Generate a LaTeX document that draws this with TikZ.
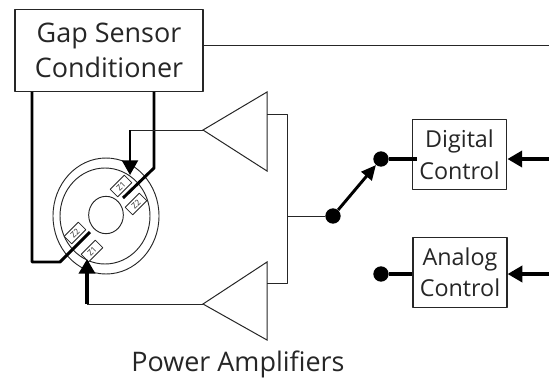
\documentclass[tikz,border=0pt]{standalone}
\usepackage{fontspec}
\setmainfont{Open Sans}
\usetikzlibrary{arrows.meta,shapes.geometric}
\definecolor{inkgrey}{gray}{0.15}
\tikzset{
  blockbox/.style={draw=inkgrey,line width=0.9pt,inner sep=0pt,align=center,text=inkgrey,fill=white},
  thinwire/.style={draw=inkgrey,line width=0.75pt},
  thickwire/.style={draw=black,line width=2.6pt},
  bigarrow/.style={thickwire,-{Triangle[length=11pt,width=12pt]}},
  terminal/.style={circle,fill=black,inner sep=0pt,minimum size=11.5pt},
  amplifier/.style={thinwire,line join=miter},
  gapcoil/.style={draw=inkgrey,line width=0.6pt,fill=white,rotate=45,minimum width=15pt,minimum height=8pt,inner sep=0pt,font=\fontsize{6}{6}\selectfont,text=inkgrey},
  airgap/.style={draw=inkgrey,line width=0.7pt}
}
\begin{document}
\begin{tikzpicture}[x=0.75pt,y=-0.75pt,>=stealth,line join=round,font=\fontsize{20.2}{26}\selectfont]
\useasboundingbox (0,0) rectangle (549,379);
% top line
\node[blockbox,minimum width=141pt,minimum height=61pt] (gapbox) at (109,50.5) {Gap Sensor\\Conditioner};
\coordinate (topend) at (549,45);
\draw[thinwire] (gapbox.east |- topend)--(topend);
% bearing
\draw[airgap] (106,216) ellipse (53 and 58);
\draw[airgap] (105,216) ellipse (45 and 48);
\node[draw=inkgrey,line width=0.7pt,ellipse,inner sep=0pt,minimum width=26pt,minimum height=28pt] (rotor) at (106,215) {};
\node[gapcoil] (coilA) at (121,186) {Z1};
\node[gapcoil] (coilB) at (136,204) {Z2};
\node[gapcoil] (coilC) at (75,233) {Z2};
\node[gapcoil] (coilD) at (92,251) {Z1};
% sensor wires
\coordinate (sensA) at (123,198);
\coordinate (sensAtop) at (154,168);
\coordinate (sensB) at (90,232);
\coordinate (sensBbend) at (60,262);
\coordinate (sensBleft) at (32,262);
\draw[thickwire,line width=2.2pt] (sensA)--(sensAtop)--(sensAtop |- gapbox.south);
\draw[thickwire,line width=2.2pt] (sensB)--(sensBbend)--(sensBleft)--(sensBleft |- gapbox.south);
% amplifiers
\coordinate (ampAtip) at (203,130);
\coordinate (ampBtip) at (203,304);
\draw[amplifier] (ampAtip)--(267,92)--(267,171)--cycle;
\draw[amplifier] (ampBtip)--(267,262)--(267,340)--cycle;
\coordinate (busA) at (287,114);
\coordinate (busB) at (287,283);
\draw[thinwire] (267,114)--(busA)--(busB)--(267,283);
% drive lines
\coordinate (driveA) at (130,130);
\coordinate (driveAend) at (130,175);
\coordinate (driveB) at (87,304);
\coordinate (driveBend) at (87,259);
\draw[thinwire] (ampAtip)--(driveA);
\draw[thinwire] (ampBtip)--(driveB);
\draw[bigarrow,line width=1.6pt] (driveA)--(driveAend);
\draw[bigarrow,line width=3.2pt] (driveB)--(driveBend);
% switch
\node[terminal] (pole) at (333,216) {};
\node[terminal] (throwA) at (381,159) {};
\node[terminal] (throwB) at (381,274) {};
\draw[thinwire] (pole)--(busA |- pole);
\draw[thickwire,line width=2.2pt,-{Triangle[length=11pt,width=10pt]}] (pole)--(throwA);
% controls
\node[blockbox,minimum width=71pt,minimum height=52pt,font=\fontsize{17.5}{24}\selectfont] (digital) at (459.5,154.5) {Digital\\Control};
\node[blockbox,minimum width=70.5pt,minimum height=53pt,font=\fontsize{17.5}{23.5}\selectfont] (analog) at (460,272.5) {Analog\\Control};
\draw[thickwire] (throwA)--(417,159);
\draw[thickwire] (throwB)--(analog.west |- throwB);
\coordinate (inA) at (549,159);
\coordinate (inB) at (549,274);
\draw[bigarrow] (inA)--(digital.east |- inA);
\draw[bigarrow] (inB)--(analog.east |- inB);
\node[text=inkgrey] (ampname) at (238,364) {Power Amplifiers};
\end{tikzpicture}
\end{document}
